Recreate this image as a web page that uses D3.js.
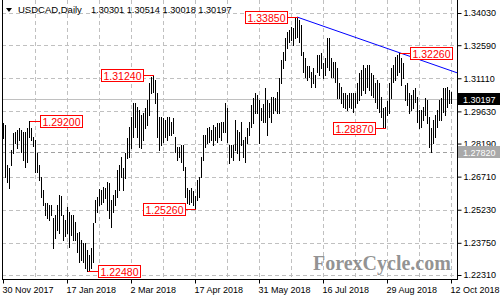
<!DOCTYPE html>
<html>
<head>
<meta charset="utf-8">
<script src="https://cdn.jsdelivr.net/npm/d3@7"></script>
<style>
  body { margin: 0; background: #fff; }
  svg { display: block; font-family: "Liberation Sans", Arial, sans-serif; }
</style>
</head>
<body>
<svg id="chart" width="500" height="300"></svg>
<script>
// daily bars, 30 Nov 2017 .. 12 Oct 2018 (one entry per trading day)
var highs = [
  1.2911,1.2902,1.2723,1.2710,1.2790,1.2866,1.2871,1.2880,1.2888,1.2880,
  1.2871,1.2871,1.2888,1.2920,1.2888,1.2848,1.2835,1.2777,1.2723,1.2669,
  1.2611,1.2553,1.2553,1.2544,1.2544,1.2485,1.2499,1.2544,1.2589,1.2584,
  1.2499,1.2477,1.2535,1.2512,1.2499,1.2499,1.2468,1.2418,1.2423,1.2387,
  1.2374,1.2374,1.2343,1.2320,1.2352,1.2463,1.2566,1.2580,1.2615,1.2611,
  1.2624,1.2620,1.2647,1.2642,1.2566,1.2589,1.2611,1.2701,1.2723,1.2759,
  1.2710,1.2777,1.2844,1.2893,1.2938,1.3000,1.3000,1.2982,1.2969,1.2947,
  1.2955,1.2978,1.3014,1.3090,1.3117,1.3124,1.3103,1.3045,1.2938,1.2938,
  1.2933,1.2924,1.2938,1.2938,1.2915,1.2933,1.2848,1.2804,1.2804,1.2813,
  1.2813,1.2714,1.2620,1.2611,1.2620,1.2606,1.2584,1.2656,1.2669,1.2759,
  1.2857,1.2857,1.2888,1.2893,1.2880,1.2902,1.2893,1.2911,1.2911,1.2915,
  1.2915,1.3000,1.2978,1.2813,1.2813,1.2813,1.2924,1.2880,1.2871,1.2915,
  1.2835,1.2848,1.2888,1.2915,1.2991,1.3023,1.3045,1.3036,1.3014,1.2978,
  1.2996,1.3068,1.3014,1.3000,1.3027,1.3027,1.3023,1.3050,1.3112,1.3193,
  1.3229,1.3291,1.3318,1.3327,1.3340,1.3336,1.3381,1.3385,1.3372,1.3349,
  1.3229,1.3202,1.3166,1.3166,1.3139,1.3157,1.3126,1.3215,1.3215,1.3224,
  1.3179,1.3202,1.3291,1.3291,1.3202,1.3184,1.3184,1.3157,1.3090,1.3072,
  1.3045,1.3045,1.3036,1.3045,1.3045,1.3045,1.3045,1.3090,1.3135,1.3148,
  1.3170,1.3157,1.3170,1.3170,1.3135,1.3126,1.3090,1.3103,1.3090,1.3027,
  1.2978,1.2982,1.3009,1.3090,1.3157,1.3170,1.3206,1.3215,1.3226,1.3202,
  1.3179,1.3081,1.3090,1.3045,1.3036,1.3059,1.3068,1.3027,1.2969,1.2969,
  1.2982,1.3023,1.3014,1.2938,1.2888,1.2924,1.2947,1.2969,1.3014,1.3023,
  1.3068,1.3068,1.3072,1.3059,1.30514
];
var lows = [
  1.2844,1.2669,1.2647,1.2620,1.2723,1.2777,1.2822,1.2799,1.2835,1.2781,
  1.2745,1.2714,1.2736,1.2848,1.2835,1.2808,1.2692,1.2692,1.2656,1.2580,
  1.2544,1.2499,1.2485,1.2477,1.2499,1.2352,1.2396,1.2432,1.2418,1.2499,
  1.2387,1.2405,1.2418,1.2356,1.2410,1.2387,1.2387,1.2334,1.2289,1.2298,
  1.2289,1.2262,1.2248,1.2252,1.2262,1.2289,1.2468,1.2512,1.2544,1.2548,
  1.2557,1.2575,1.2521,1.2485,1.2445,1.2512,1.2544,1.2580,1.2611,1.2669,
  1.2611,1.2665,1.2754,1.2759,1.2799,1.2848,1.2893,1.2848,1.2804,1.2799,
  1.2835,1.2888,1.2902,1.2947,1.3045,1.3050,1.3000,1.2848,1.2790,1.2813,
  1.2826,1.2848,1.2835,1.2857,1.2857,1.2866,1.2781,1.2745,1.2759,1.2736,
  1.2701,1.2580,1.2553,1.2548,1.2557,1.2544,1.2526,1.2566,1.2580,1.2669,
  1.2745,1.2804,1.2822,1.2826,1.2835,1.2813,1.2835,1.2826,1.2848,1.2835,
  1.2871,1.2871,1.2826,1.2732,1.2759,1.2745,1.2790,1.2777,1.2745,1.2813,
  1.2759,1.2736,1.2822,1.2857,1.2893,1.2911,1.2955,1.2955,1.2822,1.2924,
  1.2915,1.2915,1.2857,1.2938,1.2915,1.2955,1.2969,1.2955,1.2955,1.3090,
  1.3157,1.3193,1.3246,1.3273,1.3282,1.3260,1.3291,1.3296,1.3273,1.3215,
  1.3139,1.3117,1.3103,1.3117,1.3072,1.3090,1.3072,1.3139,1.3126,1.3157,
  1.3112,1.3126,1.3161,1.3148,1.3117,1.3117,1.3094,1.3023,1.3023,1.3000,
  1.2982,1.2978,1.2969,1.2982,1.2978,1.2960,1.2982,1.3000,1.3014,1.3036,
  1.3059,1.3045,1.3072,1.3059,1.3036,1.3027,1.3005,1.2978,1.2960,1.2938,
  1.2893,1.2887,1.2947,1.2955,1.3023,1.3094,1.3103,1.3126,1.3139,1.3081,
  1.3112,1.3014,1.2991,1.2955,1.2969,1.2978,1.3005,1.2915,1.2888,1.2893,
  1.2924,1.2947,1.2911,1.2804,1.2782,1.2822,1.2848,1.2893,1.2924,1.2924,
  1.2960,1.2947,1.2982,1.3000,1.30018
];

var dateTicks = [0, 32, 64, 96, 128, 160, 192, 224];
var dateLabels = ["30 Nov 2017", "17 Jan 2018", "2 Mar 2018", "17 Apr 2018",
                  "31 May 2018", "16 Jul 2018", "29 Aug 2018", "12 Oct 2018"];
var priceTicks = [1.34030, 1.32590, 1.31110, 1.29630, 1.28190, 1.26710, 1.25230, 1.23750, 1.22310];

// swing highs / lows marked on the chart
var markIdx   = [13, 42, 75, 96, 147, 191, 198];
var markPrice = [1.29200, 1.22480, 1.31240, 1.25260, 1.33850, 1.28870, 1.32260];
var markSide  = ["right", "right", "left", "left", "left", "left", "right"];

// trend line through the two highs
var trendIdx = [147, 198];
var trendPrice = [1.33850, 1.32260];

var lastOHLC = [1.30301, 1.30514, 1.30018, 1.30197];
var supportPrice = 1.27820;

var left = 2, right = 457, bottom = 279;

var x = d3.scaleLinear().domain([0, 224]).range([3, 451]);
var y = d3.scaleLinear().domain([1.22310, 1.34030]).range([275, 13]);
var fmt = d3.format(".5f");

var svg = d3.select("#chart");
svg.append("rect").attr("width", 500).attr("height", 300).attr("fill", "#fff");

// grid
var grid = svg.append("g").attr("shape-rendering", "crispEdges");
grid.selectAll(".hgrid")
  .data(priceTicks)
  .enter().append("line")
    .attr("x1", left).attr("x2", right)
    .attr("y1", function(d) { return Math.round(y(d)) + 0.5; })
    .attr("y2", function(d) { return Math.round(y(d)) + 0.5; })
    .attr("stroke", "#c0c0c0")
    .attr("stroke-dasharray", "4,3");
grid.selectAll(".vgrid")
  .data(d3.range(16, 225, 16))
  .enter().append("line")
    .attr("x1", function(d) { return Math.round(x(d)) + 0.5; })
    .attr("x2", function(d) { return Math.round(x(d)) + 0.5; })
    .attr("y1", 0).attr("y2", bottom)
    .attr("stroke", "#c0c0c0")
    .attr("stroke-dasharray", "4,3");

// support level and current price lines
grid.append("line")
  .attr("x1", left).attr("x2", right)
  .attr("y1", Math.round(y(supportPrice)) + 0.5).attr("y2", Math.round(y(supportPrice)) + 0.5)
  .attr("stroke", "#a0a0a0").attr("stroke-dasharray", "4,3");
grid.append("line")
  .attr("x1", left).attr("x2", right)
  .attr("y1", Math.round(y(lastOHLC[3])) + 0.5).attr("y2", Math.round(y(lastOHLC[3])) + 0.5)
  .attr("stroke", "#c0c0c0");

// bars
svg.append("g").attr("shape-rendering", "crispEdges")
  .selectAll("line")
  .data(highs)
  .enter().append("line")
    .attr("x1", function(d, i) { return Math.round(x(i)) + 0.5; })
    .attr("x2", function(d, i) { return Math.round(x(i)) + 0.5; })
    .attr("y1", function(d) { return Math.round(y(d)); })
    .attr("y2", function(d, i) { return Math.round(y(lows[i])) + 1; })
    .attr("stroke", "#000");

// frame
svg.append("path")
  .attr("d", "M" + (left + 0.5) + ",0V" + (bottom + 0.5) + "H" + (right + 0.5) + "V0")
  .attr("fill", "none").attr("stroke", "#000").attr("shape-rendering", "crispEdges");

// right axis
var ya = svg.append("g")
  .attr("transform", "translate(" + (right + 0.5) + ",0)")
  .call(d3.axisRight(y).tickValues(priceTicks).tickSize(4).tickPadding(2).tickFormat(fmt));
ya.select(".domain").remove();
ya.selectAll("text").attr("font-size", 9).attr("font-family", "Liberation Sans, Arial, sans-serif").attr("fill", "#000");

// bottom axis
var xa = svg.append("g")
  .attr("transform", "translate(0," + (bottom + 0.5) + ")")
  .call(d3.axisBottom(x).tickValues(dateTicks).tickSize(4).tickPadding(3)
    .tickFormat(function(d, i) { return dateLabels[i]; }));
xa.select(".domain").remove();
xa.selectAll("text").attr("text-anchor", "start").attr("x", -1)
  .attr("font-size", 9).attr("font-family", "Liberation Sans, Arial, sans-serif").attr("fill", "#000");

// price labels on the axis
function axisLabel(price, bg) {
  var py = Math.round(y(price));
  svg.append("rect").attr("x", right + 1).attr("y", py - 6).attr("width", 43).attr("height", 12).attr("fill", bg);
  svg.append("text").attr("x", right + 6).attr("y", py + 3.5)
    .attr("font-size", 9).attr("fill", "#fff").text(fmt(price));
}
axisLabel(supportPrice, "#a9a9a9");
axisLabel(lastOHLC[3], "#000");

// trend line
var tSlope = (trendPrice[1] - trendPrice[0]) / (trendIdx[1] - trendIdx[0]);
var tEnd = x.invert(right);
svg.append("line")
  .attr("x1", x(trendIdx[0])).attr("y1", y(trendPrice[0]))
  .attr("x2", right).attr("y2", y(trendPrice[0] + tSlope * (tEnd - trendIdx[0])))
  .attr("stroke", "#0000ff").attr("stroke-width", 1);

// swing labels
var marks = svg.append("g");
markIdx.forEach(function(idx, k) {
  var bx = Math.round(x(idx)) + 0.5, py = Math.round(y(markPrice[k])) + 0.5;
  var bw = 42, bh = 12;
  var x0 = markSide[k] === "right" ? bx + 11 : bx - 10 - bw;
  var edge = markSide[k] === "right" ? x0 : x0 + bw;
  marks.append("line").attr("x1", bx).attr("x2", edge).attr("y1", py).attr("y2", py)
    .attr("stroke", "#ff0000").attr("shape-rendering", "crispEdges");
  marks.append("rect").attr("x", x0).attr("y", py - bh / 2).attr("width", bw).attr("height", bh)
    .attr("fill", "#fff").attr("stroke", "#ff0000").attr("shape-rendering", "crispEdges");
  marks.append("text").attr("x", x0 + bw / 2).attr("y", py + 4)
    .attr("text-anchor", "middle").attr("font-size", 10.5).attr("fill", "#ff0000")
    .text(fmt(markPrice[k]));
});

// header
svg.append("path").attr("d", "M6,8H12L9,12Z").attr("fill", "#000");
svg.append("text").attr("x", 18).attr("y", 13).attr("font-size", 9.5).attr("fill", "#000").text("USDCAD,Daily");
svg.append("text").attr("x", 91).attr("y", 13).attr("font-size", 9.2).attr("fill", "#000")
  .text(lastOHLC.map(fmt).join(" "));

// watermark
svg.append("text").attr("x", 313).attr("y", 270)
  .attr("font-family", "Liberation Serif, Times New Roman, serif").attr("font-weight", "bold")
  .attr("font-size", 20).attr("fill", "#808080").attr("fill-opacity", 0.85)
  .text("ForexCycle.com");
</script>
</body>
</html>
